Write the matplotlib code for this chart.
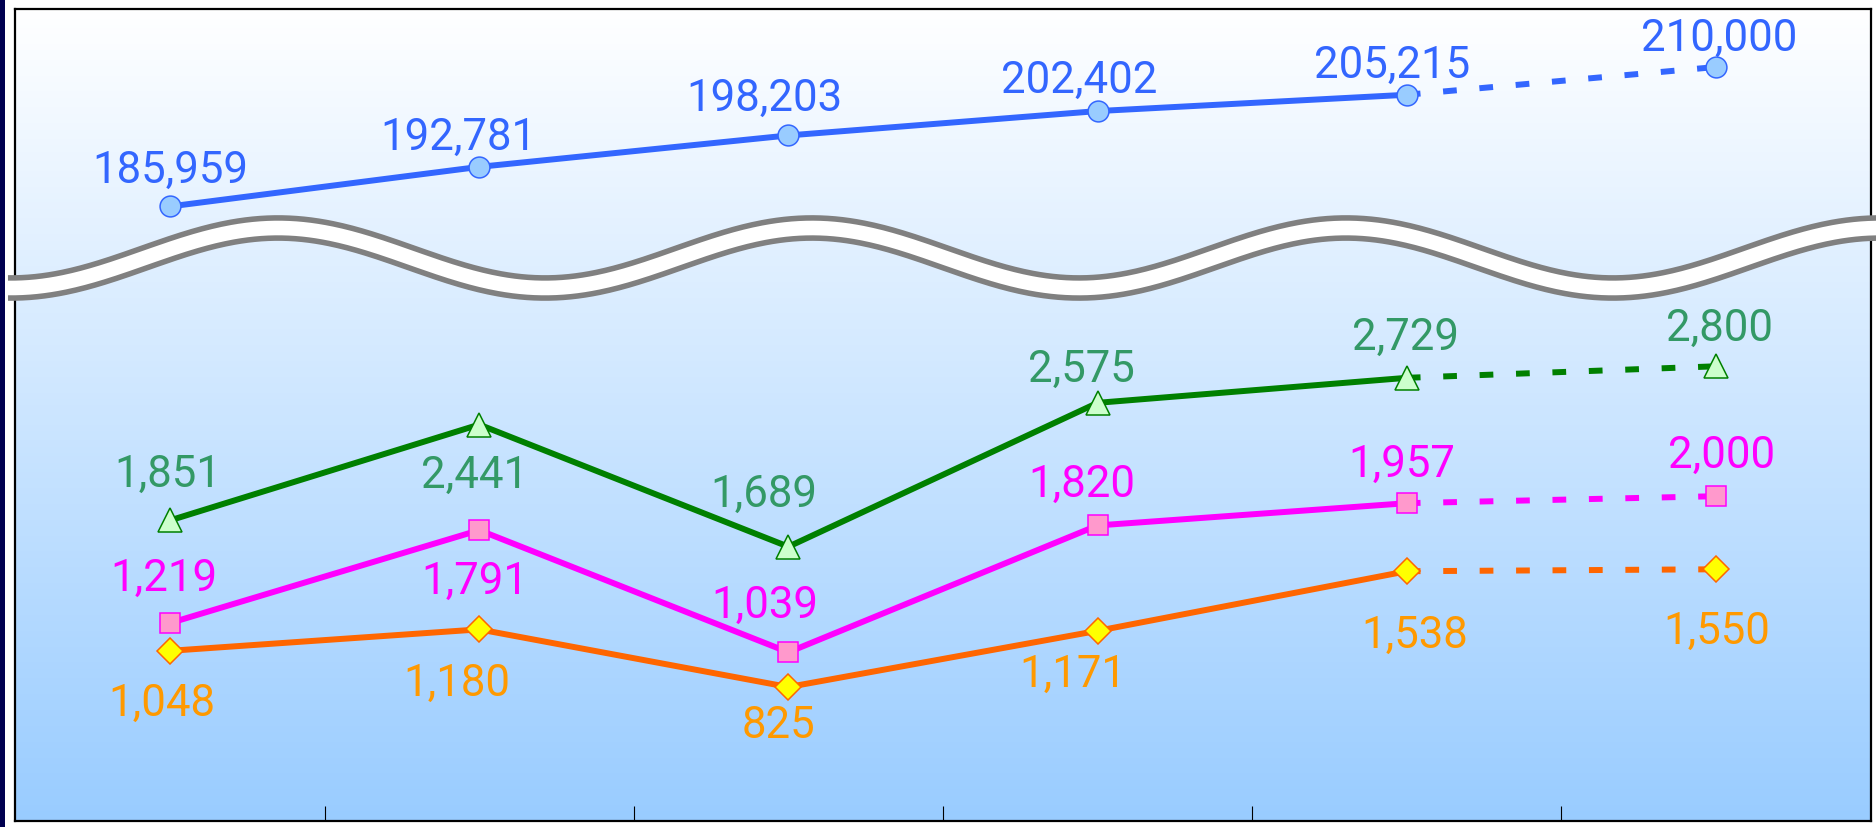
import matplotlib
matplotlib.use("Agg")
import matplotlib.pyplot as plt
import numpy as np
from matplotlib.lines import Line2D
from matplotlib.patches import Rectangle

# ---------------- data ----------------
periods = [0, 1, 2, 3, 4, 5]          # six periods (last one is the projection)
total = [185959, 192781, 198203, 202402, 205215, 210000]
series_green = [1851, 2441, 1689, 2575, 2729, 2800]
series_pink = [1219, 1791, 1039, 1820, 1957, 2000]
series_orange = [1048, 1180, 825, 1171, 1538, 1550]

# label offsets in pixels (dx, dy) relative to each point
off_total = [(0, 40), (-21, 33), (-24, 41), (-18, 34), (-15, 33), (3, 32)]
off_green = [(-2, 50), (-5, -47), (-25, 56), (-16, 37), (-1, 44), (4, 41)]
off_pink = [(-6, 48), (-4, -48), (-24, 50), (-16, 45), (-5, 42), (6, 44)]
off_orange = [(-8, -49), (-22, -50), (-10, -35), (-25, -40), (8, -61), (1, -59)]

W, H = 1876, 827
fig = plt.figure(figsize=(W / 100, H / 100), dpi=100)
fig.patch.set_facecolor("white")

# plot area in pixels
L, R, T, B = 15.4, 1870.6, 9.0, 821.0
ax = fig.add_axes([L / W, (H - B) / H, (R - L) / W, (B - T) / H])
ax.set_xlim(-0.5, 5.5)
ax.set_ylim(0, 5000)

# gradient background
grad = np.linspace(0, 1, 256)[:, None]
top_c = np.array([255, 255, 255]) / 255
bot_c = np.array([153, 204, 255]) / 255
img = top_c[None, None, :] * (1 - grad[:, :, None]) + bot_c[None, None, :] * grad[:, :, None]
ax.imshow(img, extent=(-0.5, 5.5, 0, 5000), aspect="auto", origin="upper", zorder=0)

for s in ax.spines.values():
    s.set_color("black")
    s.set_linewidth(1.6)
ax.set_xticks([0.5, 1.5, 2.5, 3.5, 4.5])
ax.tick_params(axis="x", direction="in", length=10.8, width=0.8, color="black",
               labelbottom=False)
ax.set_yticks([])

ax_top = ax.twinx()
ax_top.set_ylim(80000, 220000)
ax_top.set_yticks([])
for s in ax_top.spines.values():
    s.set_visible(False)

LW = 4.3
FONT = "Roboto"
FS = 31.5
HALF_DIGIT = 16


def draw(axis, vals, line_c, face_c, marker, ms, label_c, offsets):
    x = np.array(periods)
    v = np.array(vals)
    axis.plot(x[:5], v[:5], color=line_c, lw=LW, solid_capstyle="butt", zorder=3)
    axis.plot(x[4:], v[4:], color=line_c, lw=LW, dashes=(2.3, 3.8),
              dash_capstyle="butt", zorder=3)
    axis.plot(x, v, ls="none", marker=marker, ms=ms, mfc=face_c, mec=line_c,
              mew=1.1, zorder=4)
    for xi, vi, (dx, dy) in zip(x, v, offsets):
        axis.annotate(f"{vi:,}", (xi, vi), xytext=(dx, dy - HALF_DIGIT),
                      textcoords="offset pixels", ha="center", va="baseline",
                      color=label_c, fontsize=FS, family=FONT, zorder=5,
                      annotation_clip=False)


draw(ax_top, total, "#3366FF", "#99CCFF", "o", 15, "#3366FF", off_total)
draw(ax, series_green, "#008000", "#CCFFCC", "^", 17, "#339966", off_green)
draw(ax, series_pink, "#FF00FF", "#FF99CC", "s", 15, "#FF00FF", off_pink)
draw(ax, series_orange, "#FF6600", "#FFFF00", "D", 13, "#FF9900", off_orange)

# axis-break wave
xs = np.linspace(8, W + 2, 800)
yc = 258.0 - 30.0 * np.cos(2 * np.pi * (xs - 278) / 534)
fx, fy = xs / W, (H - yc) / H
fig.add_artist(Line2D(fx, fy, transform=fig.transFigure, color="#808080",
                      lw=18.5, solid_capstyle="butt", zorder=10))
fig.add_artist(Line2D(fx, fy, transform=fig.transFigure, color="white",
                      lw=10.5, solid_capstyle="butt", zorder=11))

# dark strip on the left edge
fig.add_artist(Rectangle((0, 0), 5 / W, 1, transform=fig.transFigure,
                         facecolor="#000050", edgecolor="none", zorder=12))

fig.savefig("out.png", dpi=100, facecolor="white")
